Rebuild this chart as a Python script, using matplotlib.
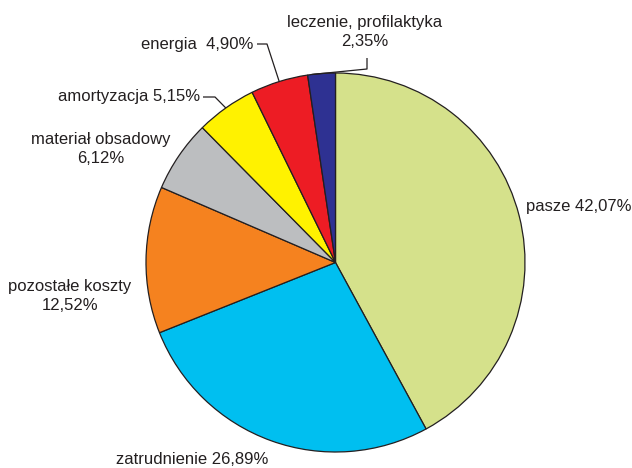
import numpy as np
import matplotlib.pyplot as plt

# udzial kosztow (%)
labels = ['pasze', 'zatrudnienie', 'pozostałe koszty', 'materiał obsadowy',
          'amortyzacja', 'energia', 'leczenie, profilaktyka']
values = [42.07, 26.89, 12.52, 6.12, 5.15, 4.90, 2.35]
colors = ['#d5e18b', '#00bff0', '#f5821f', '#bcbec0', '#fff200', '#ed1c24', '#2e3192']

W, H = 632, 468
plt.rcParams['font.family'] = ['Liberation Sans', 'DejaVu Sans']
txt_color = '#231f20'
fs = 12


def P(px, py):
    # pixel position (from top-left) -> data coords
    return px, H - py


fig = plt.figure(figsize=(W / 100, H / 100), dpi=100)
ax = fig.add_axes([0, 0, 1, 1])
ax.set_xlim(0, W)
ax.set_ylim(0, H)
ax.set_aspect('equal')
ax.axis('off')

cx, cy = P(335.5, 262.5)
r = 189.5
wedges, _ = ax.pie(values, colors=colors, startangle=90, counterclock=False,
                   center=(cx, cy), radius=r,
                   wedgeprops=dict(edgecolor='#231f20', linewidth=0.9))
ax.set_xlim(0, W)
ax.set_ylim(0, H)


def fmt(v):
    return ('%.2f%%' % v).replace('.', ',')


def arc_point(i, frac=0.5):
    # point on the rim of wedge i, frac=0..1 between its two edges
    w = wedges[i]
    a = np.deg2rad(w.theta1 + frac * (w.theta2 - w.theta1))
    return cx + r * np.cos(a), cy + r * np.sin(a)


kw = dict(fontsize=fs, color=txt_color, va='center')

ax.text(*P(526, 206), '%s %s' % (labels[0], fmt(values[0])), ha='left', **kw)
ax.text(*P(192, 460), '%s %s' % (labels[1], fmt(values[1])), ha='center', **kw)
ax.text(*P(70, 296), '%s\n%s' % (labels[2], fmt(values[2])), ha='center',
        linespacing=1.3, **kw)
ax.text(*P(101, 149), '%s\n%s' % (labels[3], fmt(values[3])), ha='center',
        linespacing=1.3, **kw)
ax.text(*P(200, 97), '%s %s' % (labels[4], fmt(values[4])), ha='right', **kw)
ax.text(*P(253, 45), '%s  %s' % (labels[5], fmt(values[5])), ha='right', **kw)
ax.text(*P(365, 32), '%s\n%s' % (labels[6], fmt(values[6])), ha='center',
        linespacing=1.3, **kw)

lk = dict(color=txt_color, linewidth=0.9, solid_capstyle='butt')

# amortyzacja
x0, y0 = P(203, 97)
x1, y1 = P(215, 97)
x2, y2 = arc_point(4)
ax.plot([x0, x1, x2], [y0, y1, y2], **lk)

# energia
x0, y0 = P(257, 44)
x1, y1 = P(267, 44)
x2, y2 = arc_point(5)
ax.plot([x0, x1, x2], [y0, y1, y2], **lk)

# leczenie
x2, y2 = arc_point(6, 0.85)
x1, y1 = P(367, 69)
x0, y0 = P(367, 58)
ax.plot([x2, x1, x0], [y2, y1, y0], **lk)

fig.savefig('out.png', dpi=100)
